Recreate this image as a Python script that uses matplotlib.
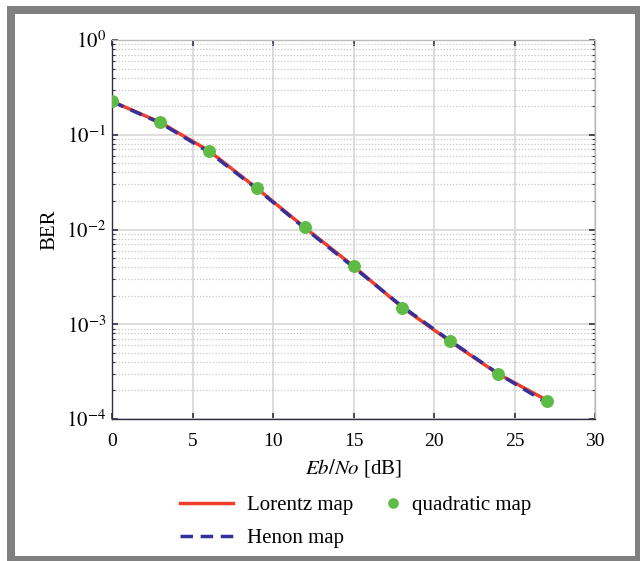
import matplotlib.pyplot as plt
from matplotlib.patches import Rectangle
from matplotlib.ticker import LogLocator, NullFormatter
import numpy as np

# BER curves for the three chaotic maps
ebno = [0, 3, 6, 9, 12, 15, 18, 21, 24, 27]
berLorentz = [0.225, 0.135, 0.068, 0.0272, 0.0104, 0.0041, 0.00152, 0.00066, 0.000298, 0.000158]
berHenon = [0.224, 0.133, 0.066, 0.0268, 0.0102, 0.0040, 0.00155, 0.00067, 0.000300, 0.000148]
berQuadratic = [0.227, 0.136, 0.067, 0.0274, 0.0106, 0.0041, 0.00148, 0.00066, 0.000298, 0.000155]

xTicks = [0, 5, 10, 15, 20, 25, 30]
yTicks = [1e-4, 1e-3, 1e-2, 1e-1, 1e0]
yLabels = [r'$10^{-4}$', r'$10^{-3}$', r'$10^{-2}$', r'$10^{-1}$', r'$10^{0}$']

plt.rcParams.update({'font.family': 'Liberation Serif', 'mathtext.fontset': 'stix',
                     'font.size': 14})

fig = plt.figure(figsize=(6.4, 5.61), dpi=100)

# gray frame around the whole figure
fig.patches.append(Rectangle((7/640, 0), 1, (561-6)/561, transform=fig.transFigure,
                             facecolor='#808080', edgecolor='none', zorder=-2))
fig.patches.append(Rectangle((15/640, 1-556/561), (635-15)/640, (556-14)/561,
                             transform=fig.transFigure, facecolor='white', edgecolor='none', zorder=-1))

ax = fig.add_axes([112/640, 1-419/561, (595-112)/640, (419-40)/561])
ax.set_yscale('log')

ax.plot(ebno, berLorentz, color='#EE3F2C', linewidth=2.5, label='Lorentz map', zorder=3)
ax.plot(ebno, berHenon, color='#35309A', linewidth=2.5, linestyle=(0, (3.6, 2.2)), label='Henon map', zorder=4)
ax.plot(ebno, berQuadratic, linestyle='none', marker='o', markersize=8.3, color='#5DBB46',
        markeredgecolor='#5DBB46', label='quadratic map', zorder=5)

ax.set_xlim(0, 30)
ax.set_ylim(1e-4, 1)
ax.set_xticks(xTicks)
ax.set_yticks(yTicks)
ax.set_yticklabels(yLabels, fontsize=15)
ax.yaxis.set_minor_locator(LogLocator(base=10, subs=np.arange(2, 10)))
ax.yaxis.set_minor_formatter(NullFormatter())

ax.grid(which='major', color='#DADADA', linewidth=1.3, linestyle='-')
ax.grid(which='minor', axis='y', color='#C8C8C8', linewidth=0.9, linestyle=(0, (1, 1.5)))
ax.set_axisbelow(True)

for sp in ax.spines.values():
    sp.set_color('#2E2E45')
    sp.set_linewidth(1.0)
ax.spines['top'].set_color('#BBBBBB')
ax.spines['right'].set_color('#BBBBBB')

ax.tick_params(which='both', direction='in', top=True, right=True, color='#2E2E45')
ax.tick_params(which='major', length=4, width=1.2)
ax.tick_params(which='minor', length=2, width=0.8)
ax.tick_params(axis='x', labelsize=14, pad=10)
ax.tick_params(axis='y', pad=4)

ax.set_ylabel('BER', fontsize=15)
ax.yaxis.set_label_coords(-0.108, 0.5)
ax.set_xlabel(r'$Eb/No$ [dB]', fontsize=15, labelpad=5)

handles, labels = ax.get_legend_handles_labels()
fig.legend(handles[:2], labels[:2], loc='upper left', bbox_to_anchor=(161/640, 1-477/561),
           frameon=False, fontsize=15, handlelength=2.55, handletextpad=0.7, labelspacing=0.65)
fig.legend(handles[2:], labels[2:], loc='upper left', bbox_to_anchor=(364/640, 1-477/561),
           frameon=False, fontsize=15, handlelength=1.0, handletextpad=0.4, numpoints=1,
           markerscale=0.8)

fig.savefig('out.png', dpi=100)
